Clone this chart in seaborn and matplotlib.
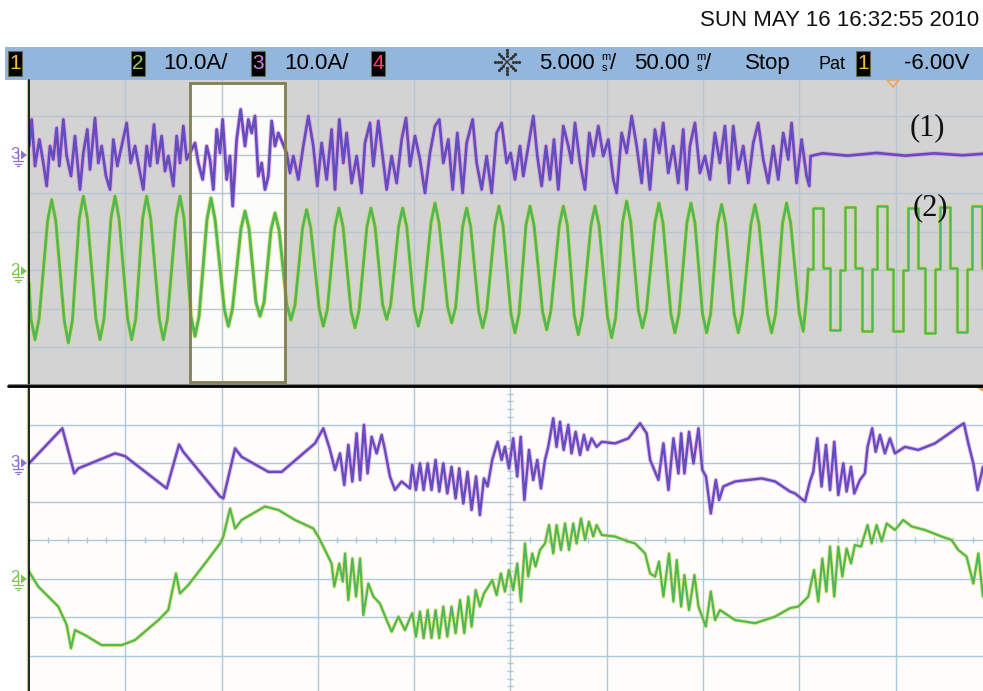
import numpy as np
import matplotlib
matplotlib.use("Agg")
import matplotlib.pyplot as plt
import seaborn as sns
from matplotlib.patches import Rectangle, Polygon

sns.set_theme(style="white")
plt.rcParams["font.family"] = ["Liberation Sans Narrow", "Liberation Sans", "DejaVu Sans"]

# ---------------- scope settings ----------------
AMPS_PER_DIV = 10.0
SLOW_MS_PER_DIV = 50.0
FAST_MS_PER_DIV = 5.0
CH3_POSITION = 20.0      # on-screen ground of channel 3, A
CH2_POSITION = -10.0     # on-screen ground of channel 2, A
ZOOM_WINDOW_MS = (83.6, 132.9)

# ---------------- channel 3, 50 ms/div (t ms, i A) ----------------
ch3_slow = [
    (0.17, 2.2), (1.38, 9.1), (3.12, -3.0), (5.37, 3.9), (7.44, -2.2), (9.17, -8.2),
    (10.90, 2.2), (12.63, -1.3), (14.36, 6.9), (15.75, -3.0), (17.83, 9.1), (19.56, -0.4),
    (21.81, -5.6), (23.88, 4.8), (26.48, -9.1), (28.21, 0.4), (30.29, 6.5), (31.67, -3.9),
    (34.27, 9.5), (36.00, -2.2), (37.73, 2.2), (39.98, -5.6), (42.06, -9.1), (43.79, 3.9),
    (45.86, -3.0), (48.11, 2.2), (50.71, 8.2), (52.79, -2.2), (55.04, 2.2), (57.29, -3.9),
    (59.36, -9.1), (61.09, 2.2), (62.82, -3.0), (64.90, 7.8), (66.63, -2.2), (68.88, 4.8),
    (70.61, -4.3), (72.34, -0.4), (74.94, -8.2), (76.67, 4.8), (78.40, -2.2), (80.13, 7.4),
    (81.86, -1.3), (86.19, 3.0), (87.92, -2.2), (90.17, -6.5), (92.25, 2.2), (93.98, -1.3),
    (95.71, -9.1), (97.44, 6.5), (99.17, 0.4), (100.55, 9.1), (102.63, -6.5), (104.36, -0.4),
    (105.75, -13.4), (107.82, 3.9), (109.90, 11.7), (112.15, 2.2), (113.88, 9.1), (115.61, 5.6),
    (117.34, 10.0), (119.07, -5.6), (120.80, -2.2), (122.53, -9.1), (124.26, -5.6), (125.99, 8.7),
    (127.73, 2.2), (129.46, 5.6), (133.78, 0.4), (135.51, -4.8), (137.24, -0.4), (139.84, -6.5),
    (142.43, 2.2), (145.03, 10.0), (147.62, 2.2), (149.70, -8.2), (151.95, 3.0), (154.55, -6.5),
    (157.14, 6.5), (158.87, -9.1), (161.12, 9.1), (163.20, -2.2), (164.93, 5.6), (167.53, -7.4),
    (170.12, -0.4), (172.72, -10.0), (174.45, 3.0), (177.04, 8.2), (178.78, -3.0), (181.37, 8.7),
    (183.62, -0.4), (185.70, -9.1), (188.29, -0.4), (190.89, -7.4), (193.49, 3.9), (195.74, 9.5),
    (197.81, -3.0), (200.41, 4.8), (203.01, -1.3), (205.60, -10.0), (208.20, 0.4), (210.79, 7.4),
    (213.04, 9.1), (215.12, -2.2), (217.72, 3.9), (219.97, -9.1), (222.39, 5.6), (225.16, -10.0),
    (227.24, 3.0), (230.35, 9.1), (232.43, -2.2), (235.03, -9.1), (237.62, -0.4), (240.22, -10.0),
    (242.81, 5.6), (245.41, 8.2), (248.00, -2.2), (250.08, 0.4), (252.33, -6.5), (254.93, 2.2),
    (256.66, -5.6), (259.25, 2.2), (261.85, 10.0), (263.93, -0.4), (266.17, -8.2), (268.42, 2.2),
    (270.50, -6.5), (272.58, 3.9), (274.83, -9.1), (277.43, 7.4), (280.02, 2.2), (281.75, -2.2),
    (283.48, 8.2), (286.08, -2.2), (288.67, -9.1), (290.92, 5.6), (293.00, -0.4), (295.60, 7.4),
    (298.19, -0.4), (300.79, 3.9), (303.39, -6.5), (305.12, -10.0), (307.72, 5.6), (310.31, 0.4),
    (312.91, 10.0), (315.51, 2.2), (318.10, -7.4), (319.80, 3.9), (322.39, -9.1), (324.99, 6.5),
    (327.24, 0.4), (329.31, 8.2), (331.91, -4.8), (334.51, 2.2), (337.10, -7.4), (339.70, 6.5),
    (341.43, -9.1), (343.16, 2.2), (345.76, 8.2), (348.35, -4.8), (350.95, -0.4), (353.54, -6.5),
    (356.14, 5.6), (358.74, -2.2), (361.33, 7.4), (363.58, -7.4), (365.66, 7.4), (368.26, -3.9),
    (370.85, 2.2), (373.45, -7.4), (376.04, 3.0), (378.64, 8.2), (381.24, -1.3), (383.83, -7.4),
    (386.43, 2.2), (389.02, -6.5), (391.62, 5.6), (394.21, -1.3), (395.94, 8.2), (398.54, -7.4),
    (401.14, 3.9), (403.74, -5.6), (405.12, -8.2), (405.81, -0.4), (412.0, 0.3), (425.0, -0.3),
    (440.0, 0.4), (455.0, -0.3), (470.0, 0.3), (485.0, -0.2), (495.5, 0.2),
]

# ---------------- channel 2, 50 ms/div: sinusoidal part ----------------
ch2_slow = [
    (0.0, -3.3), (1.02, -12.7), (3.12, -18.1), (5.22, -12.7),
    (9.67, 12.8), (11.77, 18.3), (13.87, 12.8),
    (18.32, -13.2), (20.42, -18.9), (22.52, -13.2),
    (26.11, 13.4), (28.21, 19.2), (30.31, 13.4),
    (34.76, -12.7), (36.86, -18.1), (38.96, -12.7),
    (42.55, 13.4), (44.65, 19.2), (46.75, 13.4),
    (51.21, -12.7), (53.31, -18.1), (55.41, -12.7),
    (58.99, 13.4), (61.09, 19.2), (63.19, 13.4),
    (67.65, -12.7), (69.75, -18.1), (71.85, -12.7),
    (76.30, 13.4), (78.40, 19.2), (80.50, 13.4),
    (84.09, -12.0), (86.19, -17.2), (88.29, -12.0),
    (92.40, 13.1), (94.50, 18.7), (96.60, 13.1),
    (101.40, -10.2), (103.50, -14.6), (105.60, -10.2),
    (110.05, 10.7), (112.15, 15.3), (114.25, 10.7),
    (117.84, -8.4), (119.94, -12.0), (122.04, -8.4),
    (125.63, 10.4), (127.73, 14.8), (129.83, 10.4),
    (133.90, -9.1), (136.00, -13.0), (138.10, -9.1),
    (142.06, 11.0), (144.16, 15.7), (146.26, 11.0),
    (150.71, -10.2), (152.81, -14.6), (154.91, -10.2),
    (158.85, 11.3), (160.95, 16.1), (163.05, 11.3),
    (167.16, -10.5), (169.26, -15.0), (171.36, -10.5),
    (175.46, 11.3), (177.56, 16.1), (179.66, 11.3),
    (183.60, -9.0), (185.70, -12.8), (187.80, -9.0),
    (191.91, 11.3), (194.01, 16.1), (196.11, 11.3),
    (200.04, -10.2), (202.14, -14.6), (204.24, -10.2),
    (208.69, 12.2), (210.79, 17.4), (212.89, 12.2),
    (217.35, -9.6), (219.45, -13.7), (221.55, -9.6),
    (225.14, 11.3), (227.24, 16.1), (229.34, 11.3),
    (233.44, -10.5), (235.54, -15.0), (237.64, -10.5),
    (241.92, 11.6), (244.02, 16.6), (246.12, 11.6),
    (250.23, -11.4), (252.33, -16.3), (254.43, -11.4),
    (258.02, 11.6), (260.12, 16.6), (262.22, 11.6),
    (266.67, -10.9), (268.77, -15.5), (270.87, -10.9),
    (275.33, 11.6), (277.43, 16.6), (279.53, 11.6),
    (283.11, -11.8), (285.21, -16.8), (287.31, -11.8),
    (291.77, 11.6), (293.87, 16.6), (295.97, 11.6),
    (300.42, -12.3), (302.52, -17.6), (304.62, -12.3),
    (308.21, 12.5), (310.31, 17.9), (312.41, 12.5),
    (316.40, -10.5), (318.50, -15.0), (320.60, -10.5),
    (324.97, 12.2), (327.07, 17.4), (329.17, 12.2),
    (333.27, -11.4), (335.37, -16.3), (337.47, -11.4),
    (341.58, 12.2), (343.68, 17.4), (345.78, 12.2),
    (349.71, -11.4), (351.81, -16.3), (353.91, -11.4),
    (357.50, 11.9), (359.60, 17.0), (361.70, 11.9),
    (366.16, -11.4), (368.26, -16.3), (370.36, -11.4),
    (374.81, 11.9), (376.91, 17.0), (379.01, 11.9),
    (383.46, -11.4), (385.56, -16.3), (387.66, -11.4),
    (391.25, 12.2), (393.35, 17.4), (395.45, 12.2),
    (399.90, -11.1), (402.00, -15.9), (403.60, -8.0), (404.60, 0.3),
]

# ---------------- channel 2, 50 ms/div: stepped part (level held until next time) ----------------
ch2_slow_stepped = [
    (404.6, 0.3), (407.2, 16.1), (412.4, 0.5), (415.9, -15.5), (421.0, 0.0),
    (423.6, 16.4), (428.8, 0.4), (432.3, -15.8), (437.5, 0.2), (440.1, 16.6),
    (445.3, 0.3), (448.7, -15.9), (453.9, 0.1), (456.5, 16.2), (461.7, 0.5),
    (465.2, -16.3), (470.4, 0.2), (473.0, 16.4), (478.2, 0.4), (481.6, -16.0),
    (486.8, 0.3), (489.4, 16.6), (494.6, 0.5), (496.0, 0.5),
]

# ---------------- channel 3, 5 ms/div zoom window (t ms from window start, i A) ----------------
ch3_fast = [
    (0.00, -0.1), (1.73, 9.0), (2.35, -2.7), (2.56, -1.4), (4.47, 2.5), (4.98, 1.8),
    (7.15, -6.6), (7.79, 4.8), (8.01, 2.9), (9.92, -8.7), (10.09, -9.2), (10.70, 3.8),
    (11.04, 1.6), (12.43, -2.3), (13.12, -2.3), (14.85, 5.1), (15.28, 9.0), (15.63, 3.4),
    (15.89, -1.8), (16.15, 2.5), (16.37, -5.7), (16.58, 4.7), (16.79, -4.8), (17.01, 7.7),
    (17.19, -4.4), (17.39, 9.9), (17.58, -2.7), (17.79, 6.8), (18.05, 2.5), (18.31, 7.3),
    (18.48, 3.4), (18.74, -3.5), (19.00, -7.0), (19.35, -4.8), (19.78, -6.6), (19.90, -0.5),
    (20.09, -7.0), (20.30, -0.1), (20.49, -7.0), (20.70, -0.1), (20.90, -7.0), (21.11, 0.8),
    (21.30, -7.4), (21.51, -0.1), (21.72, -7.9), (21.94, -1.0), (22.15, -9.2), (22.34, -1.4),
    (22.55, -10.5), (22.77, -2.3), (22.98, -12.2), (23.21, -3.5), (23.41, -13.5), (23.62, -4.0),
    (23.81, -6.1), (24.05, 0.8), (24.33, 5.5), (24.54, 0.8), (24.71, 4.2), (24.92, -1.4),
    (25.14, 6.4), (25.35, -3.5), (25.53, 6.8), (25.72, -9.6), (25.96, 3.4), (26.18, -4.4),
    (26.39, 0.8), (26.58, -6.6), (26.79, 0.8), (26.96, 4.2), (27.22, 11.6), (27.39, 4.2),
    (27.57, 10.7), (27.76, 3.4), (28.00, 9.9), (28.17, 2.5), (28.38, 8.1), (28.61, 2.1),
    (28.81, 7.3), (29.00, 3.4), (29.21, 6.4), (29.47, 4.2), (29.74, 5.5), (30.43, 5.1),
    (31.12, 6.4), (31.73, 10.3), (32.07, 7.7), (32.25, 0.8), (32.68, -4.4), (32.94, 5.1),
    (33.20, -7.0), (33.46, 6.4), (33.72, -2.7), (33.86, 7.7), (34.03, -2.7), (34.27, 8.1),
    (34.50, -0.1), (34.76, 9.0), (34.96, -1.8), (35.15, -3.5), (35.40, -13.1), (35.66, -4.4),
    (35.83, -9.6), (36.05, -6.1), (36.66, -4.8), (38.04, -4.0), (38.74, -4.8), (39.51, -7.4),
    (39.77, -7.9), (40.29, -10.0), (40.55, -4.8), (40.72, -2.3), (40.93, 6.4), (41.15, -6.1),
    (41.38, 4.7), (41.59, -7.0), (41.81, 5.5), (42.02, -8.3), (42.28, -0.1), (42.45, -7.4),
    (42.68, -1.0), (42.85, -7.9), (43.14, -4.4), (43.40, -2.7), (43.54, 4.2), (43.78, 9.0),
    (43.96, 2.9), (44.18, 7.3), (44.44, 2.5), (44.70, 6.4), (44.96, 2.5), (45.48, 4.2),
    (46.17, 3.4), (47.04, 5.1), (47.90, 8.1), (48.25, 9.4), (48.54, 10.3), (48.77, 5.1),
    (49.03, -0.1), (49.25, -7.0), (49.46, -2.7), (49.53, -1.0),
]

# ---------------- channel 2, 5 ms/div zoom window ----------------
ch2_fast = [
    (0.00, 1.8), (0.48, -2.1), (1.52, -7.3), (1.96, -12.1), (2.18, -18.1), (2.39, -13.4),
    (2.91, -14.7), (3.77, -17.3), (4.81, -17.3), (5.50, -16.0), (6.72, -10.8), (7.23, -8.2),
    (7.63, 1.3), (7.84, -3.9), (8.27, -1.7), (9.14, 3.9), (9.92, 9.1), (10.09, 10.9),
    (10.44, 18.2), (10.70, 13.0), (11.04, 15.2), (12.25, 18.7), (12.95, 17.8), (13.81, 15.2),
    (14.76, 13.0), (15.02, 10.9), (15.71, 3.9), (15.85, -2.1), (16.11, 3.9), (16.29, -0.8),
    (16.41, 6.5), (16.58, -5.6), (16.79, 5.2), (16.98, -4.7), (17.19, 5.2), (17.36, -9.5),
    (17.62, -1.3), (17.88, -4.7), (18.22, -6.5), (18.57, -10.8), (18.83, -13.8), (19.18, -9.9),
    (19.52, -13.4), (19.78, -10.3), (19.90, -9.0), (20.09, -15.1), (20.30, -8.6), (20.49, -15.5),
    (20.70, -8.2), (20.90, -15.5), (21.11, -8.2), (21.30, -15.5), (21.51, -7.3), (21.72, -15.1),
    (21.94, -7.3), (22.15, -14.2), (22.38, -5.6), (22.60, -14.2), (22.81, -4.7), (22.98, -12.5),
    (23.19, -3.0), (23.41, -7.3), (23.62, -3.9), (23.85, -2.1), (24.05, -0.4), (24.28, -4.3),
    (24.50, 1.3), (24.71, -3.4), (24.92, 2.2), (25.14, -3.0), (25.35, 3.9), (25.54, -6.0),
    (25.75, 9.1), (25.92, 0.5), (26.13, 6.5), (26.30, 3.1), (26.53, 7.4), (26.79, 9.1),
    (27.00, 13.9), (27.22, 6.5), (27.39, 13.9), (27.62, 7.4), (27.83, 14.3), (28.04, 7.4),
    (28.26, 14.3), (28.43, 9.1), (28.66, 15.6), (28.87, 10.0), (29.07, 14.8), (29.30, 10.9),
    (29.47, 13.9), (29.74, 11.3), (30.43, 10.9), (31.12, 9.6), (31.47, 9.1), (31.99, 6.5),
    (32.25, 1.3), (32.51, 0.5), (32.71, 4.4), (32.94, -4.7), (33.23, 6.5), (33.46, -6.0),
    (33.63, 4.8), (33.86, -7.3), (34.03, 0.9), (34.27, -8.2), (34.55, 0.9), (34.76, -7.3),
    (35.14, -12.5), (35.40, -3.4), (35.62, -10.8), (35.88, -8.2), (36.66, -10.8), (37.70, -11.6),
    (38.74, -9.9), (39.51, -7.7), (39.94, -7.3), (40.46, -4.7), (40.76, 2.2), (40.98, -6.0),
    (41.19, 5.2), (41.40, -3.4), (41.59, 8.3), (41.81, -4.7), (42.02, 8.3), (42.23, 0.5),
    (42.45, 7.8), (42.68, 3.9), (42.88, 8.7), (43.20, 8.3), (43.54, 13.9), (43.75, 9.1),
    (44.01, 13.9), (44.27, 9.6), (44.53, 14.3), (44.96, 12.6), (45.39, 15.2), (45.83, 13.5),
    (46.52, 12.6), (47.38, 10.9), (47.90, 10.0), (48.25, 7.4), (48.68, 5.7), (49.03, -1.3),
    (49.29, 6.5), (49.53, -4.7),
]

# ---------------- colours ----------------
CH3_CORE, CH3_FRINGE, CH3_EDGE = "#6a45b8", "#d98fd6", "#3f72e6"
CH2_CORE, CH2_FRINGE, CH2_EDGE = "#5dbb45", "#d9dd55", "#27a9b8"
SLOW_BG, SLOW_GRID = "#d3d3d3", "#b9c5cf"
FAST_BG, FAST_GRID = "#fffdfc", "#aac9dd"

W, H = 983, 691
fig = plt.figure(figsize=(W / 100, H / 100), dpi=100)
fig.patch.set_facecolor("white")


def rect(x0, y0, x1, y1):
    return [x0 / W, 1 - y1 / H, (x1 - x0) / W, (y1 - y0) / H]


ax_slow = fig.add_axes(rect(29, 77.5, 29 + 963, 385.5))
ax_fast = fig.add_axes(rect(29, 386, 29 + 963, 694))


def graticule(ax, ms_per_div, bg, grid, fine_ticks):
    ax.set_facecolor(bg)
    ax.set_xlim(0, 10 * ms_per_div)
    ax.set_ylim(-4 * AMPS_PER_DIV, 4 * AMPS_PER_DIV)
    for s in ax.spines.values():
        s.set_visible(False)
    ax.set_xticks([])
    ax.set_yticks([])
    for k in range(1, 10):
        ax.axvline(k * ms_per_div, color=grid, lw=1.0, zorder=1.5)
    for k in range(-3, 4):
        ax.axhline(k * AMPS_PER_DIV, color=grid, lw=1.0, zorder=1.5)
    if fine_ticks:
        # fine ticks along the centre lines
        xs = np.arange(0, 10 * ms_per_div, ms_per_div / 5)
        ax.plot(xs, np.zeros_like(xs), ls="none", marker="|", ms=4, mew=1.0, color=grid, zorder=1.6)
        ys = np.arange(-4 * AMPS_PER_DIV, 4 * AMPS_PER_DIV, AMPS_PER_DIV / 5)
        ax.plot(np.full_like(ys, 5 * ms_per_div), ys, ls="none", marker="_", ms=4, mew=1.0,
                color=grid, zorder=1.6)


def trace(ax, pts, position, core, fringe, edge, lw, drawstyle="default"):
    t = np.array([p[0] for p in pts])
    i = np.array([p[1] for p in pts]) + position
    kw = dict(ax=ax, estimator=None, sort=False, legend=False, drawstyle=drawstyle)
    sns.lineplot(x=t, y=i, color=fringe, linewidth=lw + 1.4, alpha=0.6, zorder=3, **kw)
    sns.lineplot(x=t, y=i, color=core, linewidth=lw, zorder=4, **kw)
    sns.lineplot(x=t, y=i, color=edge, linewidth=0.5, alpha=0.5, zorder=4.1, **kw)


graticule(ax_slow, SLOW_MS_PER_DIV, SLOW_BG, SLOW_GRID, fine_ticks=False)
graticule(ax_fast, FAST_MS_PER_DIV, FAST_BG, FAST_GRID, fine_ticks=True)

# zoom window on the slow timebase
z0, z1 = ZOOM_WINDOW_MS
ax_slow.add_patch(Rectangle((z0, -39.2), z1 - z0, 77.9, facecolor="#fcfcfa", edgecolor="none", zorder=1))
ax_slow.add_patch(Rectangle((z0, -39.2), z1 - z0, 77.9, fill=False, edgecolor="#837e52", lw=2.0, zorder=6))

trace(ax_slow, ch3_slow, CH3_POSITION, CH3_CORE, CH3_FRINGE, CH3_EDGE, 1.9)
trace(ax_slow, ch2_slow, CH2_POSITION, CH2_CORE, CH2_FRINGE, CH2_EDGE, 2.1)
trace(ax_slow, ch2_slow_stepped, CH2_POSITION, CH2_CORE, CH2_FRINGE, CH2_EDGE, 1.8, drawstyle="steps-post")
trace(ax_fast, ch3_fast, CH3_POSITION, CH3_CORE, CH3_FRINGE, CH3_EDGE, 1.7)
trace(ax_fast, ch2_fast, CH2_POSITION, CH2_CORE, CH2_FRINGE, CH2_EDGE, 1.6)

for ax in (ax_slow, ax_fast):
    ax.set_xlabel("")
    ax.set_ylabel("")

# ---------------- screen furniture (pixel coordinates) ----------------
deco = fig.add_axes([0, 0, 1, 1], zorder=10)
deco.set_xlim(0, W)
deco.set_ylim(H, 0)
deco.axis("off")

deco.text(979, 20, "SUN MAY 16 16:32:55 2010", ha="right", va="center", fontsize=16, color="#111111")

deco.add_patch(Rectangle((5, 47), 978, 33, facecolor="#93b7dc", edgecolor="none"))


def chan_box(x, digit, color):
    deco.add_patch(Rectangle((x, 51), 14, 25, facecolor="black", edgecolor="#6a6a50", lw=0.8))
    deco.text(x + 7, 63.5, digit, ha="center", va="center", fontsize=15, color=color)


chan_box(8, "1", "#f2c233")
chan_box(131, "2", "#93d24f")
chan_box(251, "3", "#c383e0")
chan_box(371, "4", "#ff3f6c")
chan_box(856, "1", "#f2c233")

bar_kw = dict(va="center", fontsize=16, color="black")
deco.text(163, 63, "10.0A/", **bar_kw)
deco.text(284, 63, "10.0A/", **bar_kw)
deco.text(539, 63, "5.000", **bar_kw)
deco.text(601, 57, "m", fontsize=8, va="center", color="black")
deco.text(602, 68, "s", fontsize=8, va="center", color="black")
deco.text(610, 63, "/", **bar_kw)
deco.text(634, 63, "50.00", **bar_kw)
deco.text(696, 57, "m", fontsize=8, va="center", color="black")
deco.text(697, 68, "s", fontsize=8, va="center", color="black")
deco.text(705, 63, "/", **bar_kw)
deco.text(745, 63, "Stop", **bar_kw)
deco.text(818, 64, "Pat", va="center", fontsize=13, color="black")
deco.text(904, 63, "-6.00V", **bar_kw)

# acquisition indicator
cx, cy = 507, 62
for ang in np.deg2rad(np.arange(0, 360, 45)):
    r = np.array([6, 9, 12])
    deco.plot(cx + r * np.cos(ang), cy + r * np.sin(ang), ls="none", marker="o", ms=1.3, color="#333333")
deco.plot([cx - 3, cx + 3], [cy - 3, cy + 3], color="#333333", lw=1)
deco.plot([cx - 3, cx + 3], [cy + 3, cy - 3], color="#333333", lw=1)

# panel borders
deco.plot([27, 27], [80, H], color="#f0b39a", lw=1.0)
deco.plot([29, 29], [80, H], color="black", lw=1.2)
deco.plot([8, W], [386, 386], color="black", lw=2.0)
deco.plot([8, W], [383.5, 383.5], color="#6b6b6b", lw=0.6)

# trigger markers
deco.add_patch(Polygon([(887, 80), (899, 80), (893, 87)], closed=True, fill=False, edgecolor="#f0a35a", lw=1.2))
deco.add_patch(Polygon([(976, 387), (983, 387), (983, 392)], closed=True, facecolor="#f0a35a", edgecolor="none"))


def ground_marker(y, label, color):
    deco.text(15, y - 1, label, ha="center", va="center", fontsize=12, color=color)
    deco.add_patch(Polygon([(21, y - 4.5), (21, y + 4.5), (27, y)], closed=True, facecolor=color, edgecolor="none"))
    deco.plot([18, 18], [y - 4, y + 6], color=color, lw=0.9)
    deco.plot([13, 23], [y + 6, y + 6], color=color, lw=0.9)
    deco.plot([15, 21], [y + 8.5, y + 8.5], color=color, lw=0.9)
    deco.plot([17, 19], [y + 11, y + 11], color=color, lw=0.9)


ground_marker(155, "3", "#8c6fd0")
ground_marker(271, "2", "#7cc24f")
ground_marker(463, "3", "#8c6fd0")
ground_marker(579, "2", "#7cc24f")

serif = ["Liberation Serif", "DejaVu Serif"]
deco.text(927, 128, "(1)", ha="center", va="center", fontsize=22, family=serif, color="#111111")
deco.text(930, 208, "(2)", ha="center", va="center", fontsize=22, family=serif, color="#111111")

fig.savefig("out.png", dpi=100)
